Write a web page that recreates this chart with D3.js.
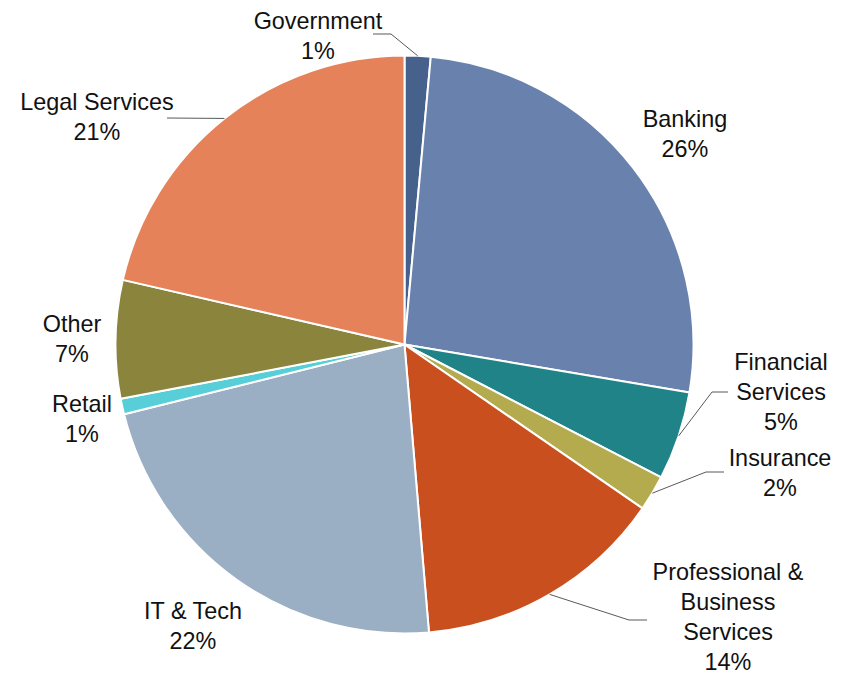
<!DOCTYPE html>
<html>
<head>
<meta charset="utf-8">
<script src="https://cdn.jsdelivr.net/npm/d3@7/dist/d3.min.js"></script>
<style>
  html, body { margin: 0; padding: 0; background: #fff; }
  svg { display: block; }
  text { font-family: "Liberation Sans", Arial, sans-serif; font-size: 23.4px; fill: #111; }
</style>
</head>
<body>
<svg id="chart" width="845" height="675"></svg>
<script>
// Client mix by sector (share of total, %), clockwise from 12 o'clock
const categories = ["Government", "Banking", "Financial Services", "Insurance",
  "Professional & Business Services", "IT & Tech", "Retail", "Other", "Legal Services"];
const shares = [1.45, 26.2, 4.95, 2.0, 14.05, 22.47, 0.87, 6.6, 21.41];
const labelLines = [["Government"], ["Banking"], ["Financial", "Services"], ["Insurance"],
  ["Professional &", "Business", "Services"], ["IT & Tech"], ["Retail"], ["Other"], ["Legal Services"]];
const colors = ["#46628c", "#6981ad", "#1f8388", "#b4ab4e", "#c9501e",
  "#9aaec4", "#58cfd8", "#8b843d", "#e5825a"];

// Layout: label anchor (centre x, first baseline y) and leader elbow points
const cx = 404.5, cy = 344.5, R = 289;
const lineHeight = 30;
const labelLayout = [
  { x: 318, y: 29,  leader: [[373, 34], [391, 34]] },
  { x: 685, y: 127, leader: null },
  { x: 781, y: 370, leader: [[728, 392], [712, 392]] },
  { x: 780, y: 466, leader: [[724, 472], [706, 472]] },
  { x: 728, y: 580, leader: [[647, 620], [629, 620]] },
  { x: 193, y: 619, leader: null },
  { x: 82,  y: 412, leader: null },
  { x: 72,  y: 332, leader: null },
  { x: 97,  y: 110, leader: [[167, 118]] }
];

const data = categories.map((c, i) => ({ name: c, value: shares[i], i }));
const total = d3.sum(shares);

const pie = d3.pie().sort(null).value(d => d.value).startAngle(0).endAngle(2 * Math.PI);
const arcs = pie(data);
const arc = d3.arc().innerRadius(0).outerRadius(R);
const edgeArc = d3.arc().innerRadius(R).outerRadius(R);

const svg = d3.select("#chart");
const g = svg.append("g").attr("transform", `translate(${cx},${cy})`);

g.selectAll("path.slice")
  .data(arcs)
  .join("path")
  .attr("class", "slice")
  .attr("d", arc)
  .attr("fill", d => colors[d.data.i])
  .attr("stroke", "#fff")
  .attr("stroke-width", 2)
  .attr("stroke-linejoin", "round");

// Leader lines: from the label side to the slice's mid-angle on the rim
const line = d3.line();
arcs.forEach(d => {
  const lay = labelLayout[d.data.i];
  if (!lay.leader) return;
  const [ex, ey] = edgeArc.centroid(d);
  const pts = lay.leader.map(p => [p[0], p[1]]).concat([[ex + cx, ey + cy]]);
  svg.append("path")
    .attr("d", line(pts))
    .attr("fill", "none")
    .attr("stroke", "#595959")
    .attr("stroke-width", 1);
});

// Category + percentage labels
const pct = v => Math.round(v / total * 100) + "%";
arcs.forEach(d => {
  const lay = labelLayout[d.data.i];
  const lines = labelLines[d.data.i].concat([pct(d.data.value)]);
  const t = svg.append("text").attr("text-anchor", "middle");
  lines.forEach((s, k) => {
    t.append("tspan").attr("x", lay.x).attr("y", lay.y + k * lineHeight).text(s);
  });
});
</script>
</body>
</html>
